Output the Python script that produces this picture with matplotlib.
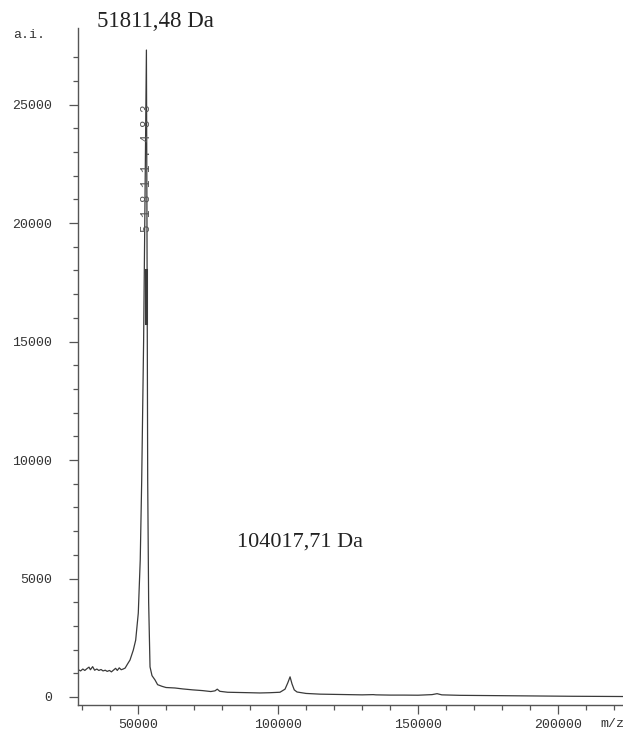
import matplotlib
matplotlib.use("Agg")
import matplotlib.pyplot as plt
from matplotlib.ticker import MultipleLocator, FixedLocator

# MALDI spectrum, m/z against intensity (a.i.)
mz = [28600, 28700, 29500, 30300, 31000, 31800, 32500, 33000, 33800, 34500,
      35300, 36000, 36800, 37500, 38300, 39000, 39800, 40500, 41300, 42000,
      42600, 43300, 44000, 44700, 45400, 46300, 47140, 48320, 49170, 50100,
      50800, 51320, 52000, 52500, 53000, 53200, 53460, 53800, 54290, 55000,
      56070, 57000, 58570, 60000, 63200, 66000, 69600, 73000, 76000, 77500,
      78300, 79200, 82000, 86000, 90000, 93500, 97000, 100700, 102500, 103500,
      104300, 105000, 105800, 106800, 110000, 115000, 120000, 125000, 130000, 134000,
      135000, 140000, 145000, 150000, 155000, 156800, 158500, 165000, 175000, 185000,
      195000, 205000, 215000, 223000]
intensity = [500, 1150, 1100, 1180, 1120, 1200, 1260, 1150, 1280, 1130,
             1180, 1120, 1160, 1100, 1130, 1080, 1120, 1060, 1140, 1210,
             1120, 1230, 1150, 1180, 1220, 1400, 1560, 1980, 2400, 3540,
             5800, 9150, 15000, 21000, 27300, 20000, 9150, 4000, 1270, 900,
             720, 520, 450, 400, 380, 340, 300, 270, 230, 260,
             330, 240, 200, 190, 180, 170, 180, 200, 330, 600,
             850, 550, 300, 210, 150, 120, 110, 100, 90, 100,
             90, 80, 80, 75, 100, 140, 90, 70, 60, 50,
             40, 30, 25, 20]

peak_main = "51811,48 Da"
peak_dimer = "104017,71 Da"
peak_tag = "51811.483"
peak_mz = 53000

x_major = [50000, 100000, 150000, 200000]
y_major = [0, 5000, 10000, 15000, 20000, 25000]

fig = plt.figure(figsize=(6.23, 7.33), dpi=100)
ax = fig.add_axes([78 / 623, 28 / 733, 545 / 623, 677 / 733])

ink = "#3a3a3a"
ax.plot(mz, intensity, color=ink, lw=0.9)
# centroid marker on the main peak
ax.plot([peak_mz, peak_mz], [15800, 18000], color=ink, lw=2.2)
ax.text(peak_mz + 150, 22300, " ".join(peak_tag.replace(" ", "")),
        rotation=90, ha="center", va="center", family="Liberation Mono",
        fontsize=9, color="#555555")

ax.set_xlim(28570, 223200)
ax.set_ylim(-338, 28230)

for s in ["top", "right"]:
    ax.spines[s].set_visible(False)
for s in ["left", "bottom"]:
    ax.spines[s].set_color("#555555")
    ax.spines[s].set_linewidth(1.0)

ax.xaxis.set_major_locator(FixedLocator(x_major))
ax.xaxis.set_minor_locator(MultipleLocator(10000))
ax.yaxis.set_major_locator(FixedLocator(y_major))
ax.yaxis.set_minor_locator(FixedLocator([v for v in range(1000, 28000, 1000)]))
ax.set_xticklabels([str(v) for v in x_major])
ax.set_yticklabels([str(v) for v in y_major])

ax.tick_params(axis="both", which="major", length=6.5, width=0.9, color="#555555",
               labelsize=9.5, labelcolor="#333333")
ax.tick_params(axis="both", which="minor", length=3.6, width=0.9, color="#555555")
ax.tick_params(axis="y", which="major", pad=12)
ax.tick_params(axis="x", which="major", pad=3.6)
for lab in ax.get_xticklabels() + ax.get_yticklabels():
    lab.set_family("Liberation Mono")

fig.text(13 / 623, 1 - 38 / 733, "a.i.", family="Liberation Mono",
         fontsize=9.5, color="#333333", ha="left", va="baseline")
fig.text(600 / 623, 1 - 727 / 733, "m/z", family="Liberation Mono",
         fontsize=9.5, color="#333333", ha="left", va="baseline")

fig.text(155 / 623, 1 - 27 / 733, peak_main, family="Liberation Serif",
         fontsize=16.5, color="#222222", ha="center", va="baseline")
fig.text(300 / 623, 1 - 547 / 733, peak_dimer, family="Liberation Serif",
         fontsize=16, color="#222222", ha="center", va="baseline")

fig.savefig("out.png", dpi=100, facecolor="white")
